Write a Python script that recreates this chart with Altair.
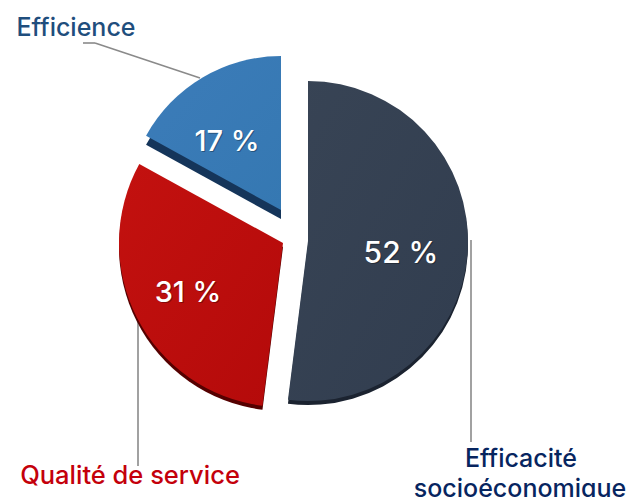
import math
import altair as alt
import pandas as pd

categories = ["Efficacité socioéconomique", "Qualité de service", "Efficience"]
values = [52, 31, 17]
value_labels = ["52 %", "31 %", "17 %"]

FONT = "Inter"
TAU = 2 * math.pi

starts, ends, total = [], [], 0
for v in values:
    starts.append(total)
    total += v
    ends.append(total)
df = pd.DataFrame({"cat": categories, "value": values, "label": value_labels,
                   "start": starts, "end": ends})
theta_scale = alt.Scale(domain=[0, 100], range=[0, TAU])


def grad(c1, c2):
    return alt.Gradient(gradient="linear", x1=0, y1=0, x2=1, y2=1,
                        stops=[alt.GradientStop(color=c1, offset=0),
                               alt.GradientStop(color=c2, offset=1)])


def slice_layers(name, cx, cy, r, depth, c1, c2, side):
    data = df[df["cat"] == name]
    enc = dict(theta=alt.Theta("start:Q", scale=theta_scale),
               theta2=alt.Theta2("end:Q"))
    lower = alt.Chart(data).mark_arc(outerRadius=r, color=side).encode(
        x=alt.value(cx), y=alt.value(cy + depth), **enc)
    upper = alt.Chart(data).mark_arc(outerRadius=r, color=grad(c1, c2)).encode(
        x=alt.value(cx), y=alt.value(cy), **enc)
    return [lower, upper]


def value_text(name, x, y, size=29):
    data = df[df["cat"] == name]
    shadow = alt.Chart(data).mark_text(font=FONT, fontSize=size, fontWeight=500, color="#000000",
                                       opacity=0.3, align="center", baseline="middle").encode(
        x=alt.value(x + 1), y=alt.value(y + 1), text="label:N")
    front = alt.Chart(data).mark_text(font=FONT, fontSize=size, fontWeight=500, color="#ffffff",
                                      align="center", baseline="middle").encode(
        x=alt.value(x), y=alt.value(y), text="label:N")
    return [shadow, front]


def rule(x1, y1, x2, y2):
    return alt.Chart(df.head(1)).mark_rule(color="#8a8a8a", strokeWidth=1.6).encode(
        x=alt.value(x1), y=alt.value(y1), x2=alt.value(x2), y2=alt.value(y2))


def caption(text, x, y, color, size=25):
    t = pd.DataFrame({"t": [text]})
    return alt.Chart(t).mark_text(font=FONT, fontSize=size, fontWeight=500, color=color,
                                  align="center", baseline="middle").encode(
        x=alt.value(x), y=alt.value(y), text="t:N")


layers = [
    rule(75, 35, 87, 35),
    rule(87, 35, 192, 70),
    rule(130, 314, 130, 458),
    rule(463, 232, 463, 434),
]
layers += slice_layers("Efficacité socioéconomique", 300, 233, 160, 4, "#384455", "#313d4f", "#1b2330")
layers += slice_layers("Qualité de service", 275, 235, 164, 4, "#c3110f", "#b40a0a", "#550000")
layers += slice_layers("Efficience", 273, 202, 154, 9, "#3c7cb9", "#3578b2", "#15355a")
layers += value_text("Efficience", 219, 134)
layers += value_text("Qualité de service", 180, 285)
layers += value_text("Efficacité socioéconomique", 393, 246, 30)
layers += [
    caption("Efficience", 68, 20, "#1f4e7d"),
    caption("Qualité de service", 122, 468, "#c4000b", 25.5),
    caption("Efficacité", 513, 451, "#07255f"),
    caption("socioéconomique", 512, 481, "#07255f"),
]

chart = alt.layer(*layers).properties(
    width=625, height=489, padding=0,
    autosize=alt.AutoSizeParams(type="none"),
    background="#ffffff",
).configure_view(stroke=None)

chart.save("out.html", embed_options={"renderer": "svg", "actions": False})
